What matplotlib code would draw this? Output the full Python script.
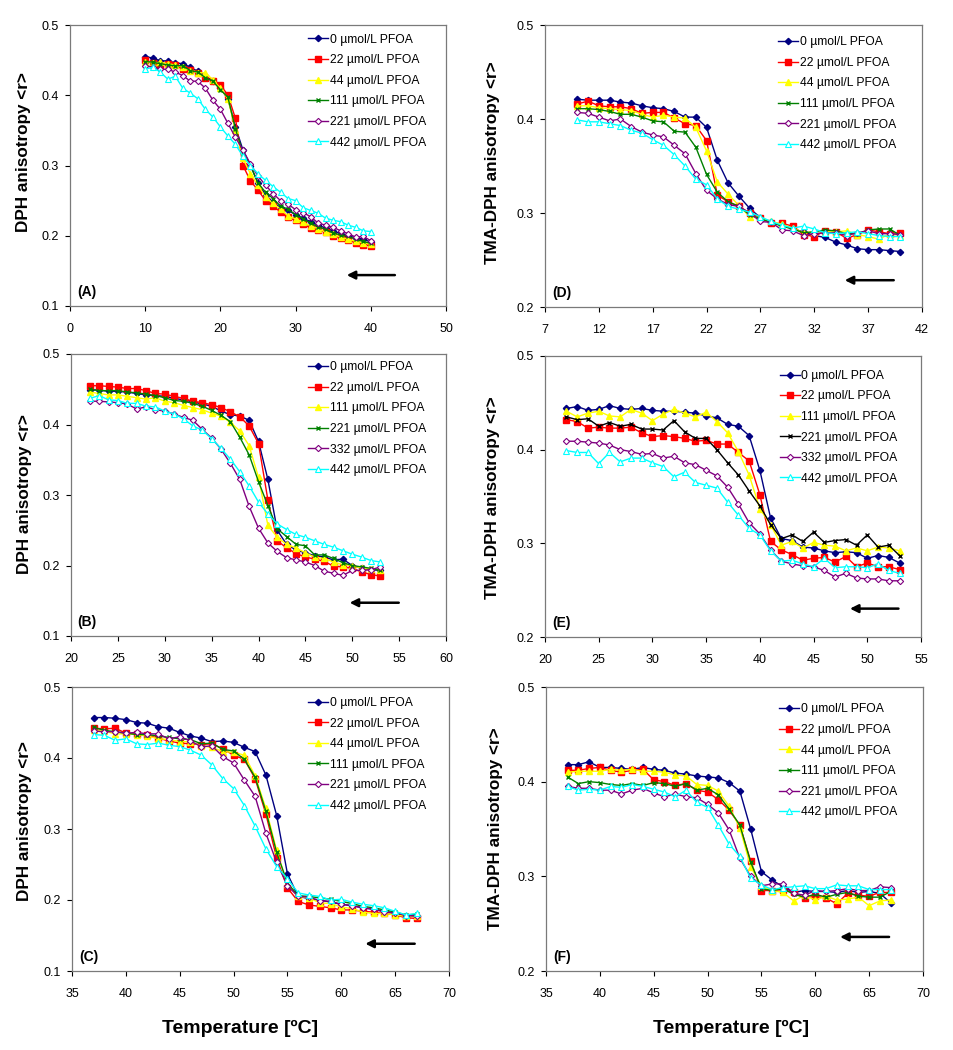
import matplotlib
matplotlib.use("Agg")
import matplotlib.pyplot as plt
import numpy as np

plt.rcParams['font.family'] = ['Liberation Sans', 'DejaVu Sans']

# ---------------- data ----------------
temp_A = list(range(10, 41))
A_0 = [0.455,0.453,0.449,0.449,0.446,0.445,0.440,0.434,0.428,0.420,0.410,0.395,0.355,0.322,0.300,0.275,0.258,0.248,0.240,0.236,0.230,0.225,0.220,0.215,0.211,0.207,0.203,0.200,0.197,0.195,0.191]
A_22 = [0.450,0.446,0.443,0.445,0.443,0.437,0.436,0.432,0.425,0.420,0.415,0.400,0.367,0.300,0.278,0.265,0.250,0.242,0.234,0.226,0.222,0.217,0.211,0.208,0.205,0.200,0.197,0.194,0.190,0.187,0.186]
A_44 = [0.448,0.446,0.447,0.445,0.443,0.440,0.435,0.432,0.432,0.422,0.410,0.395,0.350,0.310,0.288,0.272,0.255,0.246,0.238,0.228,0.224,0.219,0.214,0.210,0.205,0.202,0.198,0.195,0.192,0.190,0.188]
A_111 = [0.448,0.447,0.445,0.443,0.442,0.442,0.435,0.433,0.425,0.420,0.408,0.397,0.352,0.318,0.300,0.275,0.262,0.253,0.242,0.238,0.230,0.224,0.218,0.213,0.209,0.204,0.201,0.199,0.195,0.192,0.189]
A_221 = [0.442,0.440,0.437,0.437,0.433,0.428,0.420,0.420,0.410,0.393,0.380,0.360,0.340,0.322,0.302,0.285,0.272,0.260,0.250,0.245,0.237,0.233,0.227,0.218,0.215,0.212,0.207,0.203,0.198,0.199,0.193]
A_442 = [0.437,0.440,0.433,0.423,0.427,0.410,0.403,0.395,0.380,0.369,0.355,0.342,0.330,0.313,0.300,0.288,0.279,0.270,0.262,0.253,0.250,0.240,0.236,0.232,0.225,0.222,0.220,0.215,0.212,0.207,0.206]

temp_D = list(range(10, 41))
D_0 = [0.421,0.420,0.420,0.420,0.418,0.417,0.414,0.412,0.411,0.408,0.402,0.402,0.391,0.356,0.332,0.318,0.305,0.295,0.290,0.287,0.283,0.280,0.276,0.274,0.269,0.266,0.262,0.261,0.261,0.260,0.259]
D_22 = [0.416,0.419,0.414,0.413,0.413,0.411,0.406,0.407,0.407,0.401,0.395,0.393,0.377,0.319,0.312,0.307,0.300,0.295,0.289,0.289,0.286,0.277,0.275,0.281,0.280,0.273,0.277,0.282,0.280,0.278,0.279]
D_44 = [0.414,0.414,0.412,0.411,0.410,0.409,0.405,0.402,0.404,0.402,0.401,0.391,0.366,0.333,0.320,0.308,0.296,0.295,0.291,0.288,0.284,0.279,0.280,0.280,0.280,0.281,0.277,0.275,0.272,0.278,0.276]
D_111 = [0.411,0.411,0.410,0.408,0.405,0.405,0.402,0.398,0.397,0.387,0.386,0.370,0.341,0.322,0.312,0.307,0.298,0.294,0.290,0.286,0.283,0.279,0.280,0.282,0.281,0.278,0.278,0.282,0.283,0.283,0.276]
D_221 = [0.407,0.406,0.402,0.398,0.400,0.392,0.386,0.383,0.381,0.372,0.363,0.342,0.324,0.315,0.309,0.307,0.300,0.291,0.290,0.282,0.281,0.276,0.278,0.279,0.279,0.276,0.279,0.281,0.278,0.278,0.277]
D_442 = [0.399,0.397,0.397,0.395,0.393,0.388,0.385,0.378,0.372,0.362,0.350,0.336,0.330,0.315,0.307,0.304,0.301,0.296,0.291,0.287,0.284,0.286,0.283,0.279,0.278,0.279,0.280,0.278,0.276,0.275,0.275]

temp_B = list(range(22, 54))
B_0 = [0.449,0.449,0.447,0.447,0.446,0.444,0.442,0.441,0.440,0.437,0.435,0.432,0.429,0.426,0.419,0.414,0.412,0.406,0.376,0.322,0.250,0.230,0.222,0.218,0.214,0.212,0.208,0.209,0.200,0.196,0.194,0.193]
B_22 = [0.455,0.455,0.454,0.453,0.451,0.451,0.448,0.444,0.443,0.440,0.437,0.433,0.431,0.428,0.424,0.418,0.411,0.398,0.373,0.293,0.235,0.225,0.217,0.212,0.209,0.206,0.199,0.198,0.196,0.191,0.187,0.185]
B_111 = [0.446,0.444,0.442,0.442,0.440,0.438,0.436,0.438,0.433,0.431,0.427,0.424,0.421,0.416,0.412,0.403,0.391,0.370,0.325,0.257,0.240,0.230,0.225,0.218,0.212,0.210,0.205,0.201,0.200,0.196,0.195,0.194]
B_221 = [0.450,0.448,0.448,0.448,0.446,0.445,0.443,0.441,0.438,0.434,0.433,0.430,0.426,0.420,0.413,0.404,0.382,0.357,0.319,0.285,0.252,0.241,0.230,0.228,0.215,0.215,0.210,0.204,0.200,0.198,0.196,0.193]
B_332 = [0.433,0.433,0.432,0.431,0.429,0.422,0.425,0.421,0.419,0.415,0.410,0.406,0.393,0.381,0.365,0.345,0.322,0.284,0.253,0.232,0.220,0.211,0.208,0.205,0.200,0.192,0.189,0.186,0.193,0.193,0.194,0.198]
B_442 = [0.437,0.441,0.435,0.434,0.430,0.430,0.426,0.425,0.419,0.415,0.408,0.398,0.392,0.380,0.366,0.351,0.333,0.313,0.290,0.273,0.259,0.251,0.244,0.240,0.235,0.230,0.226,0.221,0.216,0.212,0.207,0.205]

temp_E = list(range(22, 54))
E_0 = [0.444,0.446,0.442,0.443,0.447,0.444,0.443,0.444,0.442,0.441,0.441,0.440,0.439,0.436,0.434,0.427,0.425,0.415,0.378,0.327,0.305,0.303,0.296,0.295,0.292,0.290,0.291,0.290,0.284,0.287,0.285,0.279]
E_22 = [0.432,0.430,0.423,0.424,0.423,0.423,0.424,0.418,0.414,0.415,0.414,0.412,0.409,0.410,0.406,0.406,0.397,0.388,0.352,0.302,0.293,0.288,0.282,0.284,0.285,0.280,0.286,0.275,0.279,0.275,0.275,0.272]
E_111 = [0.441,0.435,0.439,0.441,0.436,0.435,0.443,0.439,0.431,0.438,0.443,0.439,0.435,0.440,0.430,0.418,0.398,0.373,0.337,0.320,0.298,0.302,0.295,0.301,0.298,0.297,0.292,0.295,0.292,0.296,0.295,0.292]
E_221 = [0.435,0.432,0.433,0.425,0.429,0.425,0.427,0.422,0.422,0.421,0.431,0.419,0.412,0.412,0.400,0.386,0.373,0.356,0.340,0.320,0.305,0.309,0.302,0.312,0.301,0.303,0.304,0.298,0.309,0.296,0.298,0.287]
E_332 = [0.409,0.409,0.408,0.407,0.405,0.400,0.398,0.395,0.396,0.391,0.393,0.386,0.384,0.378,0.372,0.360,0.342,0.322,0.310,0.293,0.281,0.278,0.276,0.275,0.271,0.264,0.268,0.263,0.262,0.262,0.260,0.260]
E_442 = [0.399,0.397,0.397,0.385,0.397,0.387,0.391,0.391,0.386,0.382,0.371,0.376,0.365,0.362,0.359,0.344,0.330,0.316,0.309,0.292,0.281,0.282,0.278,0.275,0.284,0.274,0.275,0.275,0.274,0.278,0.271,0.268]

temp_C = list(range(37, 68))
C_0 = [0.457,0.457,0.456,0.454,0.450,0.449,0.444,0.442,0.436,0.431,0.428,0.423,0.424,0.422,0.415,0.409,0.376,0.319,0.237,0.205,0.202,0.200,0.197,0.194,0.192,0.189,0.187,0.184,0.181,0.177,0.177]
C_22 = [0.442,0.441,0.442,0.435,0.434,0.432,0.428,0.424,0.421,0.420,0.419,0.420,0.413,0.404,0.398,0.371,0.321,0.259,0.217,0.198,0.193,0.191,0.189,0.186,0.186,0.184,0.183,0.181,0.179,0.175,0.174]
C_44 = [0.439,0.438,0.434,0.434,0.433,0.431,0.427,0.426,0.423,0.423,0.417,0.415,0.409,0.408,0.404,0.375,0.329,0.270,0.222,0.205,0.203,0.196,0.195,0.190,0.188,0.183,0.181,0.181,0.179,0.177,0.178]
C_111 = [0.443,0.439,0.437,0.435,0.433,0.433,0.431,0.429,0.427,0.426,0.420,0.421,0.412,0.410,0.398,0.373,0.325,0.267,0.224,0.206,0.205,0.203,0.201,0.198,0.195,0.191,0.189,0.186,0.183,0.179,0.180]
C_221 = [0.438,0.437,0.437,0.435,0.436,0.434,0.434,0.427,0.430,0.424,0.416,0.417,0.402,0.393,0.369,0.346,0.294,0.253,0.220,0.205,0.204,0.199,0.198,0.194,0.192,0.189,0.187,0.183,0.182,0.178,0.178]
C_442 = [0.433,0.432,0.425,0.427,0.420,0.419,0.421,0.418,0.416,0.411,0.404,0.390,0.371,0.357,0.333,0.304,0.272,0.247,0.230,0.210,0.207,0.205,0.200,0.201,0.197,0.194,0.192,0.189,0.184,0.179,0.181]

temp_F = list(range(37, 68))
F_0 = [0.418,0.418,0.421,0.415,0.415,0.414,0.413,0.415,0.413,0.412,0.409,0.408,0.406,0.405,0.404,0.399,0.390,0.350,0.305,0.296,0.289,0.283,0.285,0.284,0.284,0.283,0.285,0.283,0.284,0.282,0.272]
F_22 = [0.412,0.412,0.414,0.415,0.412,0.410,0.412,0.413,0.402,0.400,0.396,0.398,0.391,0.389,0.381,0.370,0.354,0.316,0.285,0.285,0.286,0.283,0.277,0.279,0.277,0.271,0.282,0.280,0.279,0.283,0.283]
F_44 = [0.410,0.411,0.411,0.411,0.413,0.412,0.413,0.411,0.411,0.410,0.407,0.406,0.397,0.396,0.390,0.374,0.351,0.310,0.290,0.285,0.283,0.274,0.280,0.275,0.279,0.275,0.276,0.278,0.269,0.274,0.275]
F_111 = [0.405,0.398,0.400,0.399,0.397,0.396,0.398,0.396,0.399,0.398,0.395,0.398,0.391,0.393,0.386,0.371,0.354,0.315,0.287,0.285,0.287,0.281,0.278,0.281,0.278,0.281,0.283,0.279,0.278,0.278,0.284]
F_221 = [0.395,0.393,0.393,0.391,0.391,0.387,0.391,0.393,0.388,0.384,0.387,0.384,0.383,0.376,0.367,0.349,0.319,0.300,0.290,0.292,0.292,0.282,0.280,0.285,0.284,0.285,0.287,0.285,0.285,0.289,0.288]
F_442 = [0.395,0.391,0.392,0.391,0.395,0.394,0.397,0.395,0.392,0.389,0.384,0.391,0.378,0.373,0.354,0.334,0.321,0.298,0.291,0.286,0.288,0.289,0.290,0.287,0.287,0.291,0.290,0.290,0.286,0.286,0.286]

labels_A = ['0 µmol/L PFOA', '22 µmol/L PFOA', '44 µmol/L PFOA', '111 µmol/L PFOA', '221 µmol/L PFOA', '442 µmol/L PFOA']
labels_B = ['0 µmol/L PFOA', '22 µmol/L PFOA', '111 µmol/L PFOA', '221 µmol/L PFOA', '332 µmol/L PFOA', '442 µmol/L PFOA']

# ---------------- styles ----------------
NAVY = dict(color='#000080', marker='D', ms=3.2, mfc='#000080', mec='#000080')
RED = dict(color='#FF0000', marker='s', ms=4.5, mfc='#FF0000', mec='#FF0000')
YEL = dict(color='#FFFF00', marker='^', ms=4.5, mfc='#FFFF00', mec='#FFFF00')
GRN = dict(color='#008000', marker='x', ms=3.5, mew=1.0)
BLK = dict(color='#000000', marker='x', ms=3.5, mew=1.0)
PUR = dict(color='#800080', marker='D', ms=3.2, mfc='white', mec='#800080', mew=0.8)
CYN = dict(color='#00FFFF', marker='^', ms=4.0, mfc='white', mec='#00FFFF', mew=0.8)

W, H = 954, 1050
fig = plt.figure(figsize=(W / 100, H / 100), dpi=100)

def ax_at(l, r, t, b):
    return fig.add_axes([l / W, (H - b) / H, (r - l) / W, (b - t) / H])

panels = [
    # rect, x, series, styles, labels, xlim, xticks, ylim, yticks, ylabel, ylabel pos, letter, legend anchor, arrow
    ((70, 446, 25, 306), temp_A, [A_0, A_22, A_44, A_111, A_221, A_442], [NAVY, RED, YEL, GRN, PUR, CYN], labels_A,
     (0, 50), np.arange(0, 51, 10), (0.1, 0.5), [0.1, 0.2, 0.3, 0.4, 0.5], 'DPH anisotropy <r>', (-0.105, 0.548), '(A)', (0.634, 0.969), (0.864, 0.736, 0.11)),
    ((545, 922, 25, 307), temp_D, [D_0, D_22, D_44, D_111, D_221, D_442], [NAVY, RED, YEL, GRN, PUR, CYN], labels_A,
     (7, 42), np.arange(7, 43, 5), (0.2, 0.5), [0.2, 0.3, 0.4, 0.5], 'TMA-DPH anisotropy <r>', (-0.12, 0.512), '(D)', (0.619, 0.96), (0.925, 0.795, 0.095)),
    ((71, 446, 354, 636), temp_B, [B_0, B_22, B_111, B_221, B_332, B_442], [NAVY, RED, YEL, GRN, PUR, CYN], labels_B,
     (20, 60), np.arange(20, 61, 5), (0.1, 0.5), [0.1, 0.2, 0.3, 0.4, 0.5], 'DPH anisotropy <r>', (-0.105, 0.505), '(B)', (0.632, 0.974), (0.874, 0.743, 0.118)),
    ((545, 921, 356, 637), temp_E, [E_0, E_22, E_111, E_221, E_332, E_442], [NAVY, RED, YEL, BLK, PUR, CYN], labels_B,
     (20, 55), np.arange(20, 56, 5), (0.2, 0.5), [0.2, 0.3, 0.4, 0.5], 'TMA-DPH anisotropy <r>', (-0.12, 0.496), '(E)', (0.624, 0.951), (0.94, 0.811, 0.101)),
    ((72, 449, 687, 971), temp_C, [C_0, C_22, C_44, C_111, C_221, C_442], [NAVY, RED, YEL, GRN, PUR, CYN], labels_A,
     (35, 70), np.arange(35, 71, 5), (0.1, 0.5), [0.1, 0.2, 0.3, 0.4, 0.5], 'DPH anisotropy <r>', (-0.105, 0.528), '(C)', (0.626, 0.965), (0.909, 0.778, 0.096)),
    ((546, 923, 687, 971), temp_F, [F_0, F_22, F_44, F_111, F_221, F_442], [NAVY, RED, YEL, GRN, PUR, CYN], labels_A,
     (35, 70), np.arange(35, 71, 5), (0.2, 0.5), [0.2, 0.3, 0.4, 0.5], 'TMA-DPH anisotropy <r>', (-0.114, 0.5), '(F)', (0.618, 0.942), (0.91, 0.78, 0.12)),
]

for (rect, x, series, styles, labels, xlim, xticks, ylim, yticks, ylabel, ylpos,
     letter, leg_anchor, arrow) in panels:
    ax = ax_at(*rect)
    for ys, st, lab in zip(series, styles, labels):
        ax.plot(x, ys, lw=1.0, label=lab, **st)
    ax.set_xlim(*xlim)
    ax.set_ylim(*ylim)
    ax.set_xticks(xticks)
    ax.set_yticks(yticks)
    ax.set_yticklabels([f'{v:g}' for v in yticks])
    ax.tick_params(direction='out', length=3.5, width=0.8, labelsize=9, colors='black')
    ax.tick_params(axis='x', pad=8.5)
    ax.tick_params(axis='y', pad=4.5)
    for sp in ax.spines.values():
        sp.set_color('#7a7a7a')
        sp.set_linewidth(0.9)
    ax.set_ylabel(ylabel, fontsize=12.3, fontweight='bold')
    ax.yaxis.set_label_coords(*ylpos)
    ax.text(0.018, 0.05, letter, transform=ax.transAxes, fontsize=10, fontweight='bold', va='center', ha='left')
    ax.annotate('', xy=(arrow[1], arrow[2]), xytext=(arrow[0], arrow[2]), xycoords='axes fraction',
                arrowprops=dict(arrowstyle='-|>', color='black', lw=1.8, mutation_scale=12, shrinkA=0, shrinkB=0))
    ax.legend(loc='upper left', bbox_to_anchor=leg_anchor, frameon=False, fontsize=8.7,
              handlelength=1.65, handletextpad=0.15, labelspacing=0.71, borderpad=0, borderaxespad=0)

fig.text(240 / W, (H - 1028) / H, 'Temperature [ºC]', fontsize=14, fontweight='bold', ha='center', va='center')
fig.text(731 / W, (H - 1028) / H, 'Temperature [ºC]', fontsize=14, fontweight='bold', ha='center', va='center')

fig.savefig('out.png', dpi=100, facecolor='white')
